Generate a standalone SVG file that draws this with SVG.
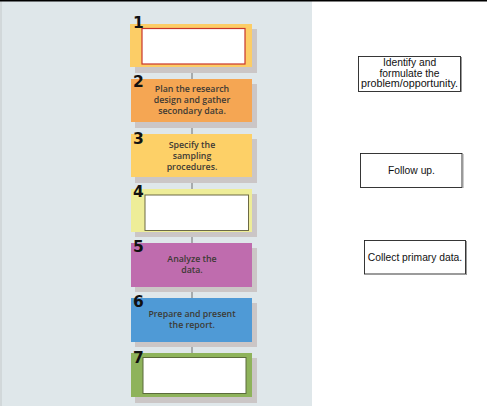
<svg xmlns="http://www.w3.org/2000/svg" width="487" height="406" viewBox="0 0 487 406">
<style>
.num{font-family:"DejaVu Sans","Liberation Sans",sans-serif;font-weight:900;font-size:15.5px;fill:#111}
.lbl{font-family:"Open Sans","DejaVu Sans",sans-serif;font-weight:600;font-size:8.8px;fill:#3d3a35;text-anchor:middle}
.rt{font-family:"Liberation Sans",Arial,sans-serif;font-size:10.3px;fill:#111;text-anchor:middle}
.sh{fill:#cbc6c6}
.rbox{fill:#fff;stroke:#222;stroke-width:0.9}
.conn{stroke:#6f6f6f;stroke-width:1;fill:none}
</style>
<rect x="0" y="0" width="487" height="406" fill="#fff"/>
<rect x="0" y="0" width="312" height="406" fill="#dfe7ea"/>
<line x1="1" y1="0" x2="1" y2="406" stroke="#c4c9ca" stroke-width="1"/>
<line x1="0" y1="0.7" x2="487" y2="0.7" stroke="#000" stroke-width="1.4"/>
<g id="connectors">
<line class="conn" x1="192" y1="67" x2="192" y2="79"/>
<line class="conn" x1="192" y1="122" x2="192" y2="134"/>
<line class="conn" x1="192" y1="177" x2="192" y2="189"/>
<line class="conn" x1="192" y1="232" x2="192" y2="243"/>
<line class="conn" x1="192" y1="287" x2="192" y2="298"/>
<line class="conn" x1="192" y1="342" x2="192" y2="353"/>
</g>
<g id="step1">
<rect class="sh" x="135" y="29" width="122" height="44"/>
<rect x="130" y="24" width="122" height="43" fill="#fccd66"/>
<rect x="142" y="28.5" width="103" height="35.5" fill="#fff" stroke="#c8352b" stroke-width="1.2"/>
<text class="num" x="133" y="28">1</text>
</g>
<g id="step2">
<rect class="sh" x="135" y="84" width="122" height="44"/>
<rect x="131" y="79" width="121" height="43" fill="#f5a653"/>
<text class="num" x="133" y="87">2</text>
<text class="lbl" x="192" y="92">Plan the research</text>
<text class="lbl" x="192" y="103">design and gather</text>
<text class="lbl" x="192" y="114">secondary data.</text>
</g>
<g id="step3">
<rect class="sh" x="135" y="139" width="122" height="44"/>
<rect x="131" y="134" width="121" height="43" fill="#fdd067"/>
<text class="num" x="133" y="144">3</text>
<text class="lbl" x="192" y="148">Specify the</text>
<text class="lbl" x="192" y="159">sampling</text>
<text class="lbl" x="192" y="169.5">procedures.</text>
</g>
<g id="step4">
<rect class="sh" x="135" y="194" width="122" height="43"/>
<rect x="131" y="189" width="121" height="43" fill="#eeed98"/>
<rect x="145" y="195" width="103.5" height="35.5" fill="#fff" stroke="#6c6a45" stroke-width="1"/>
<text class="num" x="133" y="197">4</text>
</g>
<g id="step5">
<rect class="sh" x="135" y="248" width="122" height="44"/>
<rect x="131" y="243" width="121" height="44" fill="#bf6cae"/>
<text class="num" x="133" y="252">5</text>
<text class="lbl" x="192" y="262">Analyze the</text>
<text class="lbl" x="192" y="273">data.</text>
</g>
<g id="step6">
<rect class="sh" x="135" y="303" width="122" height="44"/>
<rect x="131" y="298" width="121" height="44" fill="#4f9ad6"/>
<text class="num" x="133" y="307">6</text>
<text class="lbl" x="192" y="317">Prepare and present</text>
<text class="lbl" x="192" y="328">the report.</text>
</g>
<g id="step7">
<rect class="sh" x="135" y="358" width="122" height="45"/>
<rect x="131" y="353" width="121" height="44" fill="#8eb35b"/>
<rect x="143" y="357.5" width="103" height="36" fill="#fff" stroke="#5b6b3c" stroke-width="1"/>
<text class="num" x="133" y="363">7</text>
</g>
<g id="opt-identify">
<rect class="rbox" x="358.5" y="56.5" width="102" height="35"/>
<line x1="461.5" y1="57" x2="461.5" y2="92" stroke="#999"/>
<text class="rt" x="409.5" y="66">Identify and</text>
<text class="rt" x="409.5" y="76.5">formulate the</text>
<text class="rt" x="409.5" y="87" textLength="97" lengthAdjust="spacingAndGlyphs">problem/opportunity.</text>
</g>
<g id="opt-follow">
<rect class="rbox" x="360.5" y="153.5" width="101.5" height="34"/>
<line x1="463" y1="154" x2="463" y2="188" stroke="#999"/>
<text class="rt" x="411.5" y="174">Follow up.</text>
</g>
<g id="opt-collect">
<rect class="rbox" x="364.5" y="240.5" width="101" height="33.5"/>
<line x1="466.5" y1="241" x2="466.5" y2="275" stroke="#999"/>
<text class="rt" x="415" y="261">Collect primary data.</text>
</g>
</svg>
